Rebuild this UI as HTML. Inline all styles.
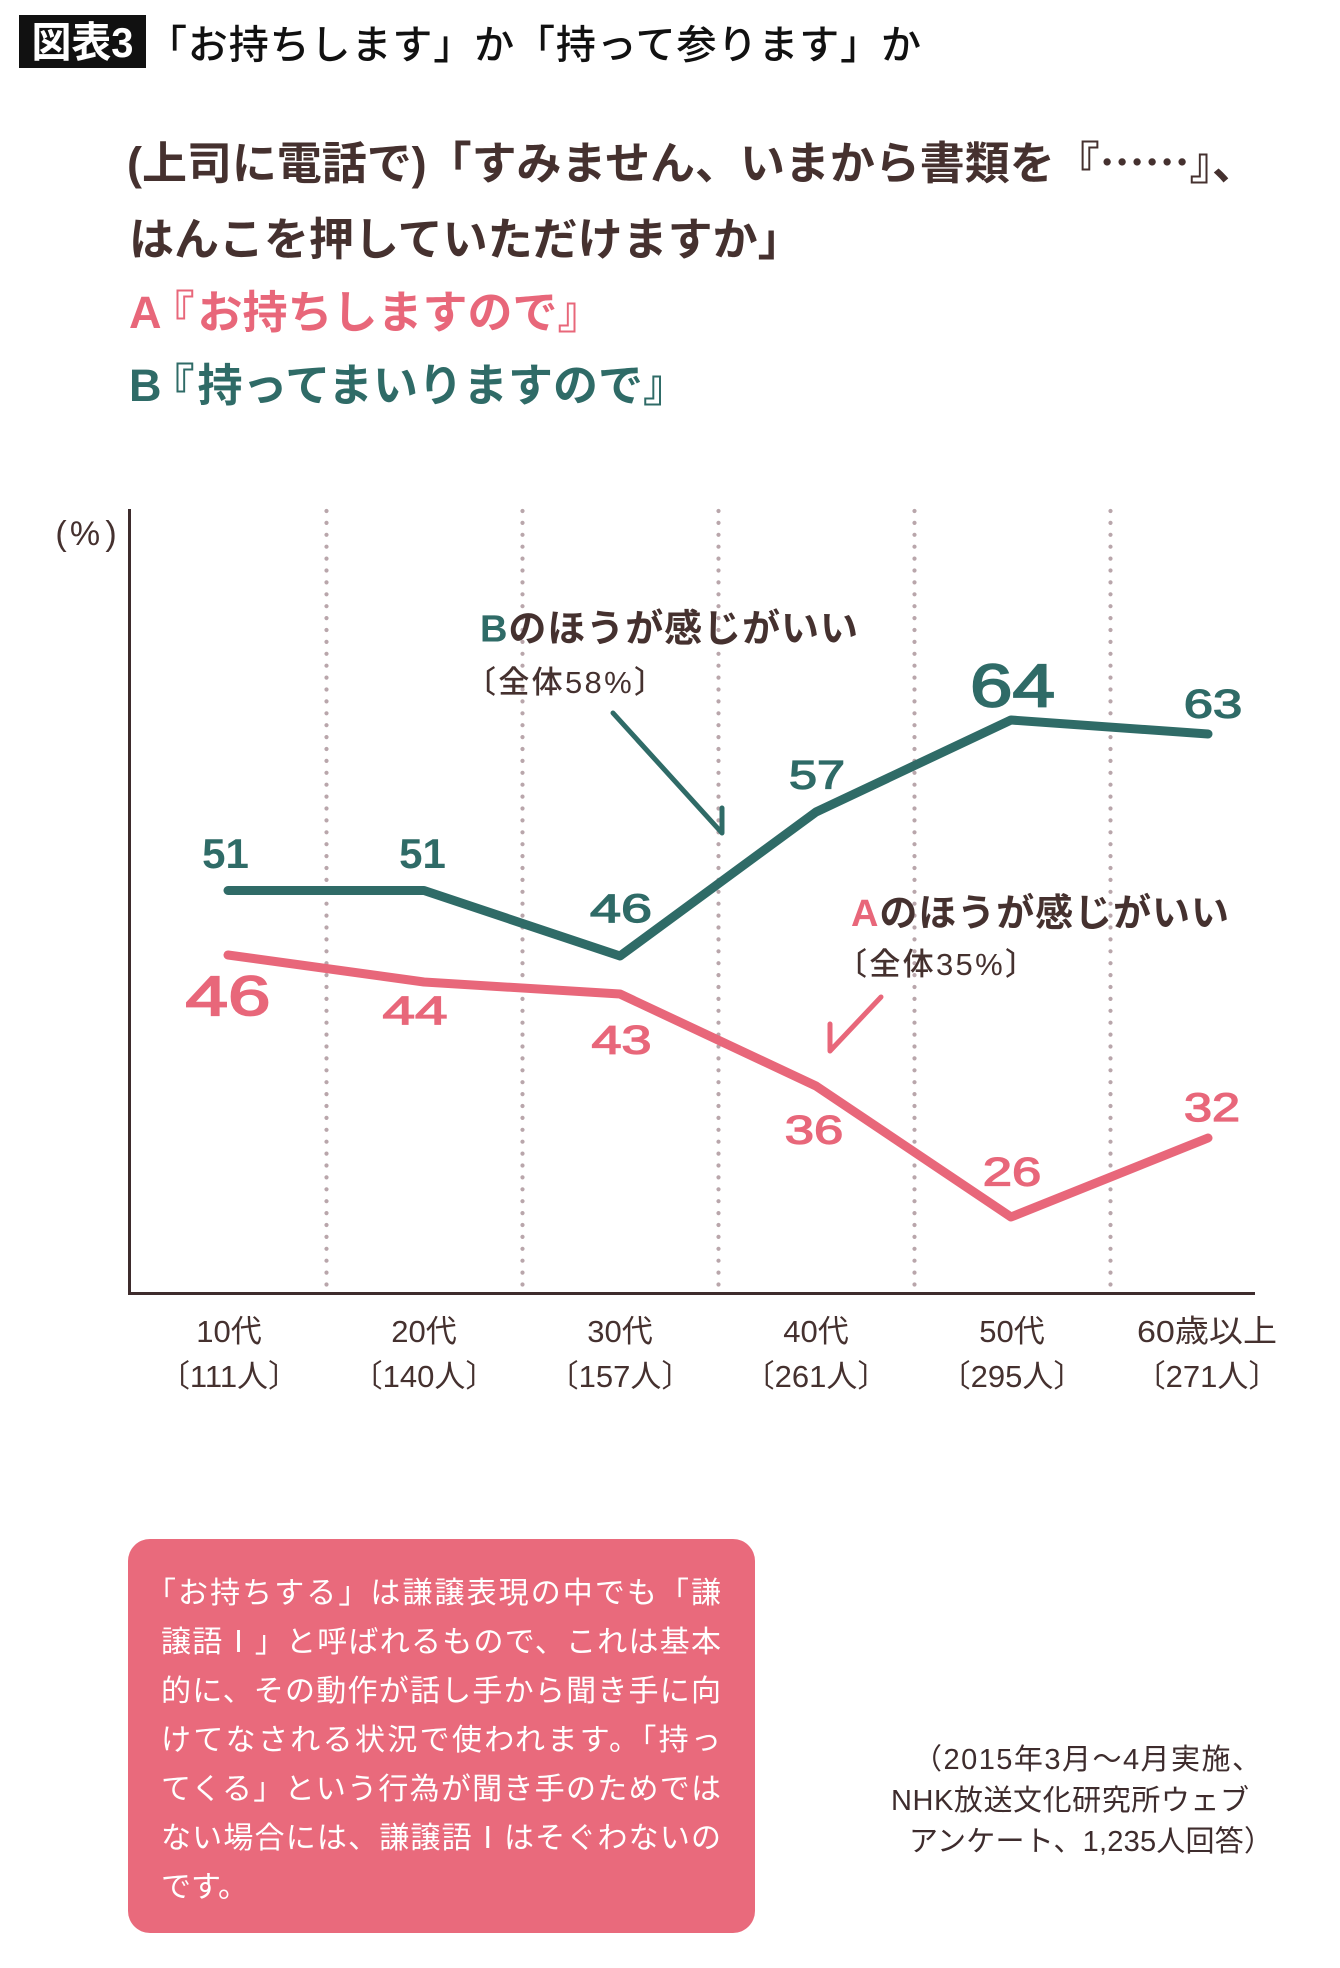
<!DOCTYPE html>
<html><head><meta charset="utf-8">
<style>
html,body{margin:0;padding:0;background:#fff;}
svg{display:block;}
text{font-family:"Liberation Sans","Noto Sans CJK JP",sans-serif;}
.cjk{font-family:"Noto Sans CJK JP",sans-serif;}
</style></head>
<body>
<svg width="1340" height="1968" viewBox="0 0 1340 1968" xmlns="http://www.w3.org/2000/svg">
<rect width="1340" height="1968" fill="#fff"/>

<!-- title -->
<rect x="19" y="15" width="127" height="53" fill="#111"/>
<text x="82.5" y="57" font-size="42" font-weight="bold" fill="#fff" text-anchor="middle" textLength="102" lengthAdjust="spacingAndGlyphs">図表3</text>
<text x="147" y="58.5" font-size="40" fill="#111" font-weight="500" textLength="774">「お持ちします」か「持って参ります」か</text>

<!-- subtitle -->
<text x="127" y="179" font-size="45" font-weight="bold" fill="#45312f" textLength="1130">(上司に電話で)「すみません、いまから書類を『<tspan class="cjk">……</tspan>』、</text>
<text x="129" y="255" font-size="45" font-weight="bold" fill="#45312f">はんこを押していただけますか」</text>
<text x="129" y="328" font-size="45" font-weight="bold" fill="#e8677a">A<tspan dx="-12">『</tspan><tspan dx="3">お持ちしますので』</tspan></text>
<text x="129" y="401" font-size="45" font-weight="bold" fill="#2f6b67">B<tspan dx="-12">『</tspan><tspan dx="3">持ってまいりますので』</tspan></text>

<!-- (%) -->
<text x="61" y="545" font-size="34" fill="#45312f" text-anchor="middle">(</text>
<text x="85" y="545" font-size="34" fill="#45312f" text-anchor="middle">%</text>
<text x="111" y="545" font-size="34" fill="#45312f" text-anchor="middle">)</text>

<!-- dotted gridlines -->
<g stroke="#b9a6ab" stroke-width="4.2" stroke-linecap="round" stroke-dasharray="0 11.9">
<line x1="326.5" y1="511" x2="326.5" y2="1290"/>
<line x1="522.5" y1="511" x2="522.5" y2="1290"/>
<line x1="718.5" y1="511" x2="718.5" y2="1290"/>
<line x1="914.5" y1="511" x2="914.5" y2="1290"/>
<line x1="1110.5" y1="511" x2="1110.5" y2="1290"/>
</g>

<!-- axes -->
<g stroke="#3e2c2d" stroke-width="3" fill="none">
<line x1="129.5" y1="509" x2="129.5" y2="1295"/>
<line x1="128" y1="1293.5" x2="1255" y2="1293.5"/>
</g>

<!-- series -->
<polyline points="228,890.5 424,890.5 620,956 816,812 1011,720 1208,734" fill="none" stroke="#2f6b67" stroke-width="9" stroke-linecap="round" stroke-linejoin="round"/>
<polyline points="228,955 424,982 620,994 816,1086 1011,1217 1208,1138" fill="none" stroke="#e8677a" stroke-width="9" stroke-linecap="round" stroke-linejoin="round"/>

<!-- arrows -->
<polyline points="613,713 722,833 722,808" fill="none" stroke="#2f6b67" stroke-width="5" stroke-linecap="round" stroke-linejoin="round"/>
<polyline points="881,997 830,1051 830,1024" fill="none" stroke="#e8677a" stroke-width="5" stroke-linecap="round" stroke-linejoin="round"/>

<!-- B labels -->
<g fill="#2f6b67" text-anchor="middle">
<text x="225.5" y="868" font-size="42" font-weight="bold">51</text>
<text x="422.5" y="868" font-size="42" font-weight="bold">51</text>
</g>
<g fill="#2f6b67" stroke="#2f6b67" stroke-width="1.3" text-anchor="middle">
<text x="621" y="922" font-size="40" textLength="62" lengthAdjust="spacingAndGlyphs">46</text>
<text x="817" y="788.5" font-size="40" textLength="56" lengthAdjust="spacingAndGlyphs">57</text>
<text x="1012.5" y="706.5" font-size="60" stroke-width="1.8" textLength="85" lengthAdjust="spacingAndGlyphs">64</text>
<text x="1213" y="717.5" font-size="40" textLength="58.5" lengthAdjust="spacingAndGlyphs">63</text>
</g>

<!-- A labels -->
<g fill="#e8677a" stroke="#e8677a" stroke-width="1.3" text-anchor="middle">
<text x="228" y="1015" font-size="56" stroke-width="1.8" textLength="85" lengthAdjust="spacingAndGlyphs">46</text>
<text x="415" y="1024" font-size="40" textLength="65" lengthAdjust="spacingAndGlyphs">44</text>
<text x="621.5" y="1053.5" font-size="40" textLength="60" lengthAdjust="spacingAndGlyphs">43</text>
<text x="814" y="1143.5" font-size="40" textLength="58.5" lengthAdjust="spacingAndGlyphs">36</text>
<text x="1012" y="1185.5" font-size="40" textLength="58.5" lengthAdjust="spacingAndGlyphs">26</text>
<text x="1212" y="1121" font-size="40" textLength="56" lengthAdjust="spacingAndGlyphs">32</text>
</g>

<!-- annotations -->
<text x="480" y="641.5" font-size="38" fill="#45312f" textLength="378" font-weight="bold"><tspan fill="#2f6b67">B</tspan>のほうが感じがいい</text>
<text x="465" y="692.8" font-size="31" fill="#45312f" font-weight="500" textLength="200">〔全体58%〕</text>
<text x="851" y="926" font-size="38" fill="#45312f" textLength="378" font-weight="bold"><tspan fill="#e8677a">A</tspan>のほうが感じがいい</text>
<text x="836" y="975" font-size="31" fill="#45312f" font-weight="500" textLength="200">〔全体35%〕</text>

<!-- x labels -->
<g fill="#45312f" font-size="31" text-anchor="middle">
<text x="229" y="1342">10代</text>
<text x="424" y="1342">20代</text>
<text x="620" y="1342">30代</text>
<text x="816" y="1342">40代</text>
<text x="1012" y="1342">50代</text>
<text x="1207" y="1342" textLength="140" lengthAdjust="spacingAndGlyphs">60歳以上</text>
<text x="229" y="1387">〔111人〕</text>
<text x="424" y="1387">〔140人〕</text>
<text x="620" y="1387">〔157人〕</text>
<text x="816" y="1387">〔261人〕</text>
<text x="1012" y="1387">〔295人〕</text>
<text x="1207" y="1387">〔271人〕</text>
</g>

<!-- note box -->
<rect x="128" y="1539" width="627" height="394" rx="22" ry="22" fill="#e96a7c"/>
<g fill="#fff" font-size="30">
<text x="146" y="1603" textLength="575">「お持ちする」は謙譲表現の中でも「謙</text>
<text x="161" y="1652" textLength="560">譲語Ⅰ」と呼ばれるもので、これは基本</text>
<text x="161" y="1701" textLength="560">的に、その動作が話し手から聞き手に向</text>
<text x="161" y="1750" textLength="560">けてなされる状況で使われます。「持っ</text>
<text x="161" y="1799" textLength="560">てくる」という行為が聞き手のためでは</text>
<text x="161" y="1848" textLength="560">ない場合には、謙譲語Ⅰはそぐわないの</text>
<text x="161" y="1897">です。</text>
</g>

<!-- footnote -->
<g fill="#3e2c2d" font-size="29">
<text x="913" y="1769" textLength="348">（2015年3月〜4月実施、</text>
<text x="891" y="1810" textLength="358">NHK放送文化研究所ウェブ</text>
<text x="909" y="1851" textLength="364">アンケート、1,235人回答）</text>
</g>
</svg>
</body></html>
